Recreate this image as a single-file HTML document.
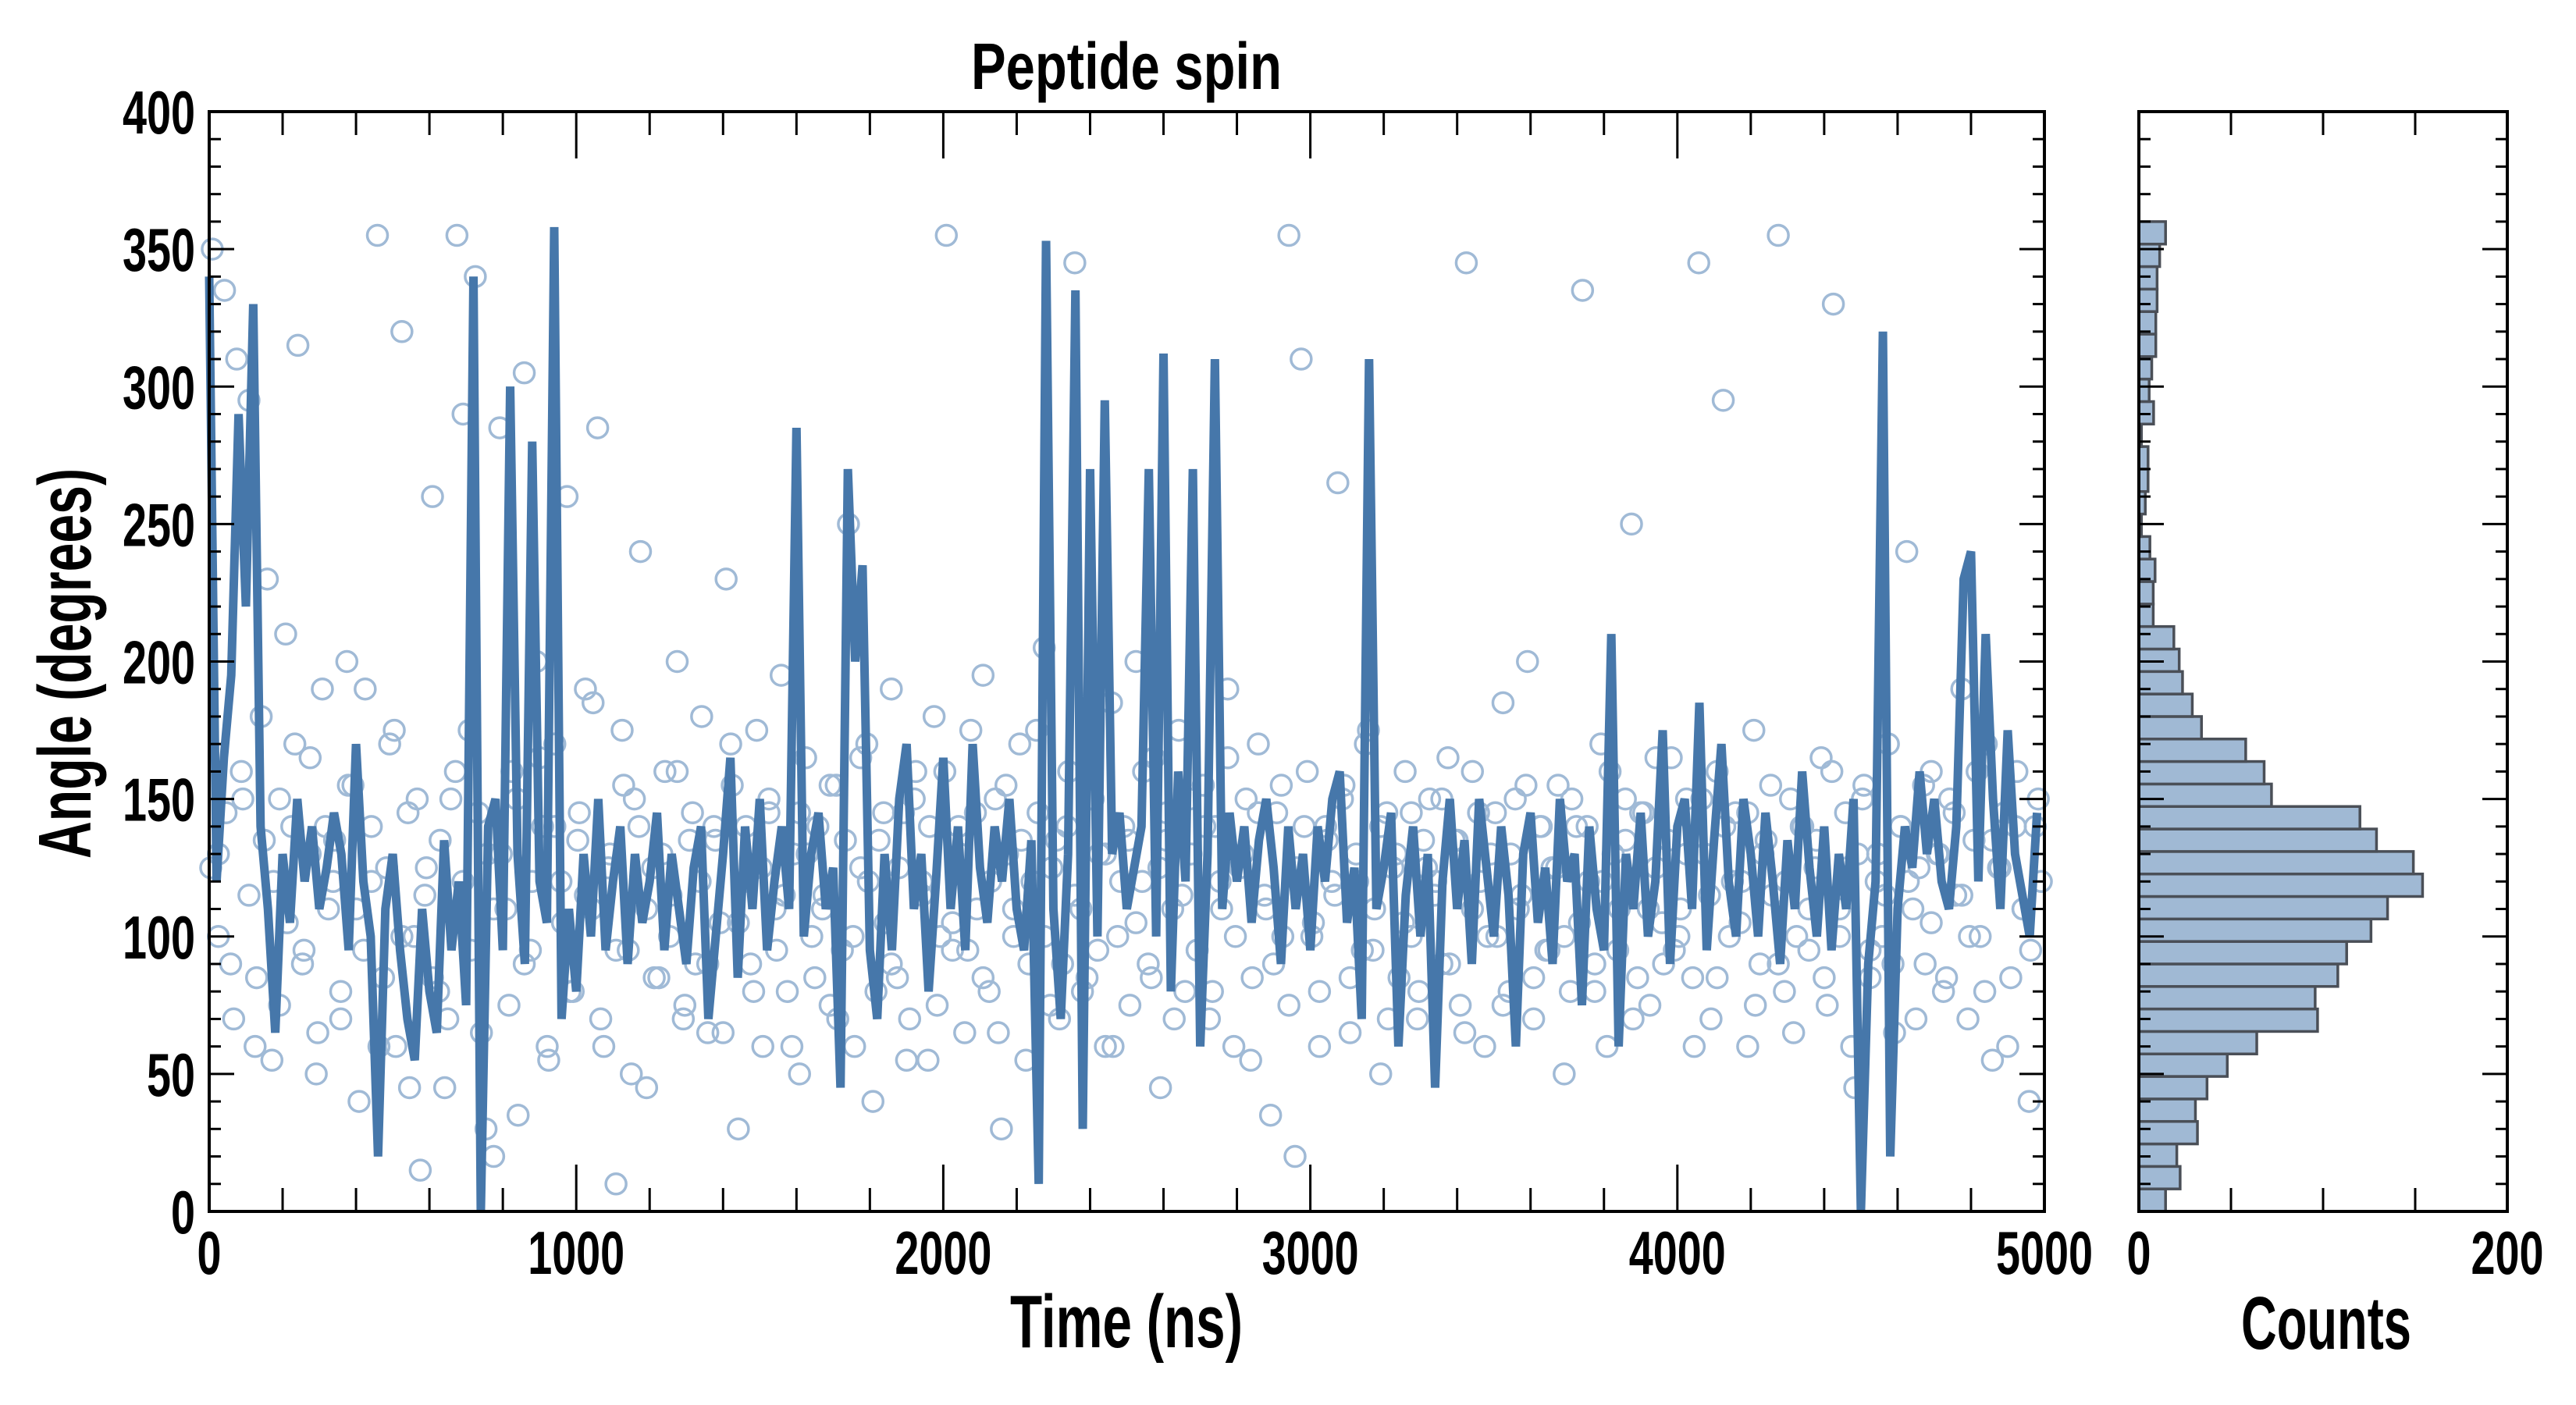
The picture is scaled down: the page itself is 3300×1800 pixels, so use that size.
<!DOCTYPE html>
<html><head><meta charset="utf-8"><style>
html,body{margin:0;padding:0;background:#fff;}
svg{display:block;font-family:"Liberation Sans",sans-serif;font-weight:bold;}
</style></head><body>
<svg id="chart" width="3300" height="1800" viewBox="0 0 3300 1800" xmlns="http://www.w3.org/2000/svg">
<rect width="3300" height="1800" fill="#fff"/>
<text x="1443" y="114" font-size="84" text-anchor="middle" textLength="398" lengthAdjust="spacingAndGlyphs">Peptide spin</text>
<text transform="translate(116,850) rotate(-90)" font-size="96" text-anchor="middle" textLength="500" lengthAdjust="spacingAndGlyphs">Angle (degrees)</text>
<text x="1443" y="1726" font-size="96" text-anchor="middle" textLength="298" lengthAdjust="spacingAndGlyphs">Time (ns)</text>
<text x="2980" y="1728" font-size="96" text-anchor="middle" textLength="218" lengthAdjust="spacingAndGlyphs">Counts</text>
<g id="scatter"></g>
<g id="line"></g>
<g id="hist"></g>
<g id="axes"></g>
</svg>
<script>
const lineV = [340,120,165,195,290,220,330,140,110,65,
130,105,150,120,140,110,125,145,130,95,
170,120,100,20,110,130,95,70,55,110,
80,65,135,95,120,75,340,0,140,150,
95,300,130,90,280,120,105,358,70,110,
80,130,100,150,95,120,140,90,130,105,
120,145,95,130,110,90,125,140,70,100,
130,165,85,140,110,150,95,120,140,110,
285,100,130,145,110,125,45,270,200,235,
95,70,130,95,150,170,110,130,80,120,
165,110,140,95,170,125,105,140,120,150,
110,95,135,10,353,110,70,130,335,30,
270,100,295,130,145,110,125,140,270,100,
312,80,160,120,270,60,130,310,110,145,
120,140,105,135,150,125,90,140,110,130,
95,140,120,150,160,105,125,70,310,110,
125,145,60,115,140,100,130,45,120,150,
110,135,90,150,125,100,140,115,60,130,
145,105,125,90,150,120,130,75,140,110,
95,210,60,130,110,145,100,120,175,90,
140,150,110,185,95,135,170,120,100,150,
130,100,145,120,90,135,110,160,125,100,
140,95,130,110,150,0,90,120,320,20,
110,140,125,160,130,150,120,110,140,230,
240,120,210,150,110,175,130,115,100,145];
const scatV = [350,130,335,90,310,150,295,60,180,230,120,75,210,140,315,95,165,50,190,110,
135,70,200,155,40,190,120,355,85,170,60,320,145,100,15,125,260,80,45,150,
355,290,175,340,65,130,20,285,110,160,35,305,95,200,140,55,170,120,260,80,
145,190,110,285,60,130,10,175,95,150,240,45,125,85,160,115,200,70,135,90,
180,65,140,105,230,155,30,120,90,175,60,145,110,195,80,130,50,165,100,140,
115,75,155,95,250,60,125,170,40,135,105,190,85,145,70,160,120,55,180,100,
355,95,140,65,175,110,195,80,150,30,130,100,170,55,120,145,205,75,135,90,
160,345,110,85,150,130,60,185,100,140,75,200,120,90,165,45,135,110,175,80,
130,95,155,70,140,110,190,60,125,150,85,170,115,35,145,100,355,20,310,160,
105,80,140,120,265,155,65,130,95,175,110,50,145,125,85,160,100,70,135,150,
120,90,165,135,75,345,110,145,60,130,100,185,80,150,115,200,70,140,95,125,
155,100,80,140,335,120,90,170,60,130,110,150,250,85,145,75,165,105,135,95,
110,150,85,345,130,70,160,295,100,145,120,60,175,90,135,115,355,80,150,100,
140,95,125,165,75,330,110,145,60,130,155,85,120,100,170,65,140,240,110,125,
90,160,130,80,150,115,190,70,135,100,170,55,125,145,85,160,110,40,140,120];
const scatV2 = [125,100,145,70,160,115,85,135,55,150,105,170,90,130,65,140,120,80,155,110,
95,140,60,125,175,100,45,150,115,85,135,70,160,120,95,145,30,110,130,75,
150,90,120,165,60,140,105,80,135,115,185,70,125,95,155,50,140,110,85,130,
100,160,75,145,120,90,135,65,170,105,140,80,125,150,95,115,60,145,130,85,
110,155,70,135,100,165,120,80,145,90,125,55,150,115,140,75,160,105,130,95,
145,85,120,65,155,110,135,90,175,100,125,70,140,115,80,150,95,130,60,120,
135,105,160,85,125,145,70,115,150,95,140,80,120,165,100,130,55,145,110,90,
155,75,125,140,100,60,135,115,150,85,120,170,95,140,70,130,105,145,80,125,
115,150,90,135,65,160,120,100,145,75,130,110,155,85,140,95,125,50,150,105,
140,80,120,160,95,135,70,145,110,125,90,165,100,130,60,150,115,85,140,120,
105,145,75,130,155,90,120,65,140,110,135,85,160,100,125,45,150,95,130,115,
90,140,120,70,155,105,130,85,145,115,100,160,80,135,125,60,140,110,95,150];
const histCounts = [14.5,22.4,20.6,31.8,30.7,37,48,64,97,95.7,108,112.8,126,135,154,149,129,120,72,68,58,34,29,23.7,21.9,19,7.8,7.8,8.8,6,1.4,3.5,5,5,1.4,8,5.6,7,9.2,9.2,9.9,9.9,11.3,14.5];
const xTickLabels = [0,1000,2000,3000,4000,5000];
const yTickLabels = [0,50,100,150,200,250,300,350,400];
const histTickLabels = [0,200];

const NS="http://www.w3.org/2000/svg";
const L=268,R=2619,T=143,B=1552,HL=2740,HR=3212;
const TMAX=5000,YMAX=400,HMAX=200,BIN=360/44;
const xs=t=>L+t/TMAX*(R-L);
const ys=v=>B-v/YMAX*(B-T);
const xh=c=>HL+c/HMAX*(HR-HL);
function mk(tag,attrs,parent){const e=document.createElementNS(NS,tag);for(const k in attrs)e.setAttribute(k,attrs[k]);parent.appendChild(e);return e;}

const sg=document.getElementById('scatter');
function drawScatter(arr,offset){
  const step=TMAX/arr.length;
  arr.forEach((v,i)=>{
    const c=mk('circle',{cx:xs(i*step+step*offset),cy:ys(v),r:13,fill:'none',stroke:'#a0bad6','stroke-width':3.5},sg);
    
    
  });
}
drawScatter(scatV,0.5);
drawScatter(scatV2,0.2);
const lg=document.getElementById('line');
const lstep=TMAX/lineV.length;
const pts=lineV.map((v,i)=>xs(i*lstep)+','+ys(v)).join(' ');
const pl=mk('polyline',{points:pts,fill:'none',stroke:'#4677aa','stroke-width':11,'stroke-linejoin':'bevel'},lg);



const hg=document.getElementById('hist');
histCounts.forEach((c,i)=>{
  const y1=ys((i+1)*BIN),y0=ys(i*BIN);
  const r=mk('rect',{x:HL,y:y1,width:xh(c)-HL,height:y0-y1,fill:'#a0b9d4',stroke:'#4a4f57','stroke-width':3.5},hg);
  
  
});

const ag=document.getElementById('axes');
function frame(x0,x1){mk('rect',{x:x0,y:T,width:x1-x0,height:B-T,fill:'none',stroke:'#000','stroke-width':4},ag);}
frame(L,R);frame(HL,HR);
for(let v=0;v<=YMAX;v+=10){
  const len=v%50===0?32:15;
  mk('line',{x1:L,x2:L+len,y1:ys(v),y2:ys(v),stroke:'#000','stroke-width':3},ag);
  mk('line',{x1:R,x2:R-len,y1:ys(v),y2:ys(v),stroke:'#000','stroke-width':3},ag);
  mk('line',{x1:HL,x2:HL+len,y1:ys(v),y2:ys(v),stroke:'#000','stroke-width':3},ag);
  mk('line',{x1:HR,x2:HR-len,y1:ys(v),y2:ys(v),stroke:'#000','stroke-width':3},ag);
}
for(let t=0;t<=TMAX;t+=200){
  const len=t%1000===0?60:30;
  mk('line',{x1:xs(t),x2:xs(t),y1:B,y2:B-len,stroke:'#000','stroke-width':3},ag);
  mk('line',{x1:xs(t),x2:xs(t),y1:T,y2:T+len,stroke:'#000','stroke-width':3},ag);
}
for(let c=0;c<=HMAX;c+=50){
  mk('line',{x1:xh(c),x2:xh(c),y1:B,y2:B-30,stroke:'#000','stroke-width':3},ag);
  mk('line',{x1:xh(c),x2:xh(c),y1:T,y2:T+30,stroke:'#000','stroke-width':3},ag);
}
function lab(txt,x,y,anchor,name){
  const s=String(txt);
  const e=mk('text',{x:x,y:y,'font-size':78,'text-anchor':anchor,textLength:s.length*31,lengthAdjust:'spacingAndGlyphs'},ag);
  e.textContent=s;
  
  
}
yTickLabels.forEach(v=>lab(v,250,ys(v)+28,'end','y-tick-label'));
xTickLabels.forEach(t=>lab(t,xs(t),1632,'middle','x-tick-label'));
histTickLabels.forEach(c=>lab(c,xh(c),1632,'middle','hist-tick-label'));
</script>
</body></html>
